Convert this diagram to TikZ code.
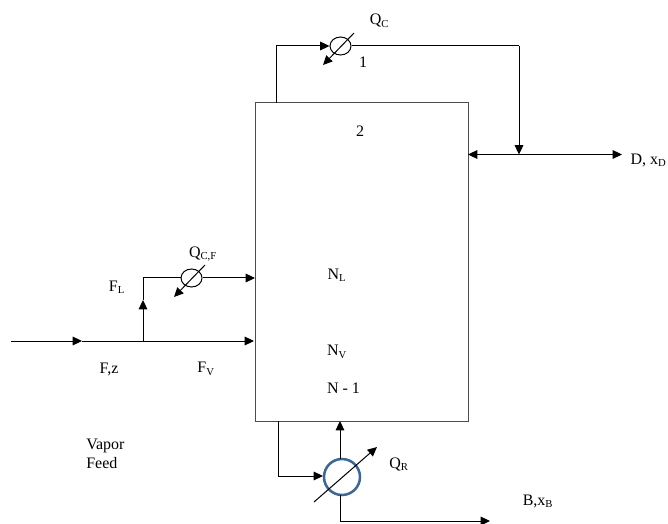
\documentclass[tikz,border=0pt]{standalone}
\usepackage{fontspec}
\setmainfont{Liberation Serif}
\usetikzlibrary{arrows.meta,shapes.geometric}
\tikzset{
  pipe/.style={draw=black,line width=0.75pt},
  flow/.style={pipe,-{Triangle[length=7pt,width=6.5pt]}},
  dflow/.style={pipe,{Triangle[length=7pt,width=6.5pt]}-{Triangle[length=7pt,width=6.5pt]}},
  heat/.style={draw=black,line width=0.75pt,-{Triangle[length=7pt,width=6.5pt]}},
  lab/.style={inner sep=0pt,font=\fontsize{12}{14.25}\selectfont,text=black},
  hx/.style={ellipse,draw=black,line width=0.75pt,minimum width=15.75pt,minimum height=13.5pt,inner sep=0pt},
  col/.style={rectangle,draw=black!70,line width=0.75pt,inner sep=0pt,minimum width=159.75pt,minimum height=238.5pt},
  reb/.style={circle,draw=rebblue,line width=1.9pt,minimum size=27pt,inner sep=0pt}
}
\definecolor{rebblue}{HTML}{3D6895}
\newcommand{\sbs}[1]{\textsubscript{\fontsize{8}{9}\selectfont #1}}
\begin{document}
\begin{tikzpicture}[x=0.75pt,y=-0.75pt]
\useasboundingbox (0,0) rectangle (668,524);
\node[col] (column) at (361.5,262) {};
\coordinate (colTopOut) at (276,103);
\coordinate (condIn) at (276,46);
\node[hx] (cond) at (340.5,46) {};
\coordinate (split) at (519,46);
\coordinate (refluxJ) at (519,154.5);
\coordinate (colRight) at (468,154.5);
\coordinate (dEnd) at (622,154.5);
\draw[pipe] (colTopOut) -- (condIn);
\draw[flow] (condIn) -- (cond.west);
\draw[pipe] (cond.east) -- (split);
\draw[flow] (split) -- (refluxJ);
\draw[dflow] (colRight) -- (dEnd);
\coordinate (qcA) at (354,33);
\coordinate (qcB) at (323,65);
\draw[heat] (qcA) -- (qcB);
% feed
\coordinate (feedStart) at (11,341);
\coordinate (feedMid) at (82,341);
\coordinate (feedJ) at (143,341);
\coordinate (colFeedV) at (254,341);
\coordinate (flTip) at (143,300);
\coordinate (flCorner) at (143,278);
\node[hx] (cf) at (191.5,278) {};
\coordinate (colFeedL) at (255,278);
\draw[flow] (feedStart) -- (feedMid);
\draw[flow] (feedMid) -- (colFeedV);
\draw[flow] (feedJ) -- (flTip);
\draw[pipe] (flTip) -- (flCorner) -- (cf.west);
\draw[flow] (cf.east) -- (colFeedL);
\coordinate (qfA) at (205,265);
\coordinate (qfB) at (174,297);
\draw[heat] (qfA) -- (qfB);
% reboiler
\node[reb] (reb) at (342,477) {};
\coordinate (botOut) at (278,421);
\coordinate (botCorner) at (278,476);
\coordinate (rebIn) at (323,476);
\coordinate (rebUp) at (340,459);
\coordinate (colBot) at (340,421);
\coordinate (rebDown) at (340,495);
\coordinate (bCorner) at (340,521);
\coordinate (bEnd) at (490,521);
\draw[pipe] (botOut) -- (botCorner);
\draw[flow] (botCorner) -- (rebIn);
\draw[flow] (rebUp) -- (colBot);
\draw[pipe] (rebDown) -- (bCorner);
\draw[flow] (bCorner) -- (bEnd);
\coordinate (qrA) at (314,502);
\coordinate (qrB) at (377,447);
\draw[heat] (qrA) -- (qrB);
% labels
\node[lab] (lQc) at (379.5,21) {Q\sbs{C}};
\node[lab] (l1) at (363,62) {1};
\node[lab] (l2) at (360,131) {2};
\node[lab] (lD) at (648.5,160) {D, x\sbs{D}};
\node[lab] (lQcf) at (203,254) {Q\sbs{C,F}};
\node[lab] (lFL) at (117,287) {F\sbs{L}};
\node[lab] (lNL) at (337,275) {N\sbs{L}};
\node[lab] (lNV) at (337,352) {N\sbs{V}};
\node[lab] (lN1) at (343.5,388) {N - 1};
\node[lab] (lFz) at (109,369) {F,z};
\node[lab] (lFV) at (206,369) {F\sbs{V}};
\node[lab,align=left,anchor=north west] (lVF) at (86,439) {Vapor\\Feed};
\node[lab] (lQR) at (399,464) {Q\sbs{R}};
\node[lab] (lB) at (538,501) {B,x\sbs{B}};
\end{tikzpicture}
\end{document}
